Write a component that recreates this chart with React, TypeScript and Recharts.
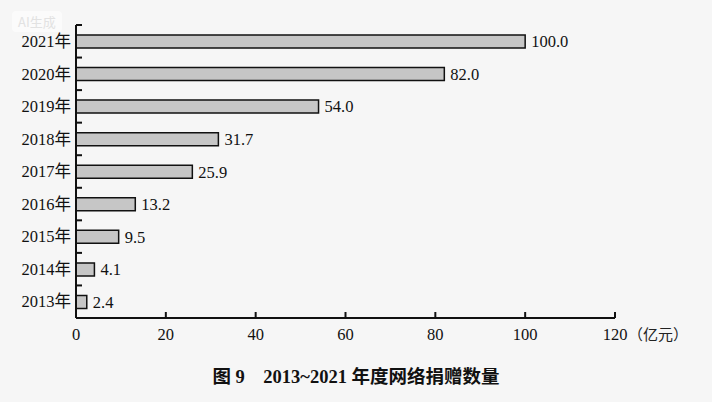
import React from "react";
import { BarChart, Bar, XAxis, YAxis, LabelList } from "recharts";

const years = ["2013年", "2014年", "2015年", "2016年", "2017年", "2018年", "2019年", "2020年", "2021年"];
const amounts = [2.4, 4.1, 9.5, 13.2, 25.9, 31.7, 54.0, 82.0, 100.0];
const xTicks = [0, 20, 40, 60, 80, 100, 120];
const unit = "（亿元）";
const title = "2013~2021 年度网络捐赠数量";

// top of chart = 2021, so reverse for the category axis
const data = years.map((y, i) => ({ year: y, value: amounts[i] })).reverse();

const W = 712;
const H = 402;
const LEFT = 76;
const TOP = 25;
const RIGHT = 615;
const BOTTOM = 318;
const BAND = (BOTTOM - TOP) / years.length;
const SERIF = "'Liberation Serif', 'Times New Roman', 'Noto Sans CJK SC', serif";

const YTick = (props: any) => {
  const { y, payload } = props;
  const top = y - BAND / 2;
  return (
    <g>
      <line x1={LEFT} x2={LEFT + 6} y1={top} y2={top} stroke="#111" strokeWidth={2} />
      <text x={LEFT - 5} y={y} dy="0.35em" textAnchor="end" fontFamily={SERIF} fontSize={16.5} fill="#111">
        {payload.value}
      </text>
    </g>
  );
};

const XTick = (props: any) => {
  const { x, payload } = props;
  const v = payload.value;
  return (
    <g>
      {v !== 0 && <line x1={x} x2={x} y1={BOTTOM} y2={BOTTOM - 6} stroke="#111" strokeWidth={2} />}
      <text x={x} y={BOTTOM + 22} textAnchor="middle" fontFamily={SERIF} fontSize={16.5} fill="#111">
        {v}
      </text>
      {v === 120 && (
        <text x={x + 13} y={BOTTOM + 22} textAnchor="start" fontFamily="'Noto Sans CJK SC', sans-serif" fontSize={15} fill="#222">
          {unit}
        </text>
      )}
    </g>
  );
};

export default function App() {
  return (
    <div style={{ position: "fixed", left: 0, top: 0, width: W, height: H, background: "#f6f6f6" }}>
      <div
        style={{
          position: "absolute",
          left: 12,
          top: 11,
          padding: "1px 6px",
          borderRadius: 4,
          background: "rgba(255,255,255,0.6)",
          color: "#e2e2e2",
          fontFamily: "'Noto Sans CJK SC', sans-serif",
          fontSize: 13,
        }}
      >
        AI生成
      </div>
      <BarChart
        width={W}
        height={H}
        data={data}
        layout="vertical"
        margin={{ top: TOP, right: W - RIGHT, bottom: H - BOTTOM - 30, left: 0 }}
        barCategoryGap={0}
      >
        <XAxis
          type="number"
          domain={[0, 120]}
          ticks={xTicks}
          axisLine={{ stroke: "#111", strokeWidth: 2 }}
          tickLine={false}
          tickSize={0}
          height={30}
          tick={<XTick />}
          interval={0}
        />
        <YAxis
          type="category"
          dataKey="year"
          width={LEFT}
          axisLine={{ stroke: "#111", strokeWidth: 2 }}
          tickLine={false}
          tickSize={0}
          tick={<YTick />}
          interval={0}
        />
        <Bar dataKey="value" barSize={13} fill="#c6c6c6" stroke="#111" strokeWidth={1.5} isAnimationActive={false}>
          <LabelList
            dataKey="value"
            position="right"
            offset={6}
            formatter={(v: any) => Number(v).toFixed(1)}
            style={{ fontFamily: SERIF, fontSize: 16.5, fill: "#111" }}
          />
        </Bar>
      </BarChart>
      <div
        style={{
          position: "absolute",
          left: 0,
          width: W,
          top: 362,
          textAlign: "center",
          fontWeight: "bold",
          fontSize: 18.5,
          color: "#111",
          whiteSpace: "pre",
        }}
      >
        <span style={{ fontFamily: "'Noto Sans CJK SC', sans-serif" }}>图</span>
        <span style={{ fontFamily: SERIF }}>{" "}9{"    "}</span>
        <span style={{ fontFamily: "'Liberation Serif', 'Noto Sans CJK SC', serif" }}>{title}</span>
      </div>
    </div>
  );
}
